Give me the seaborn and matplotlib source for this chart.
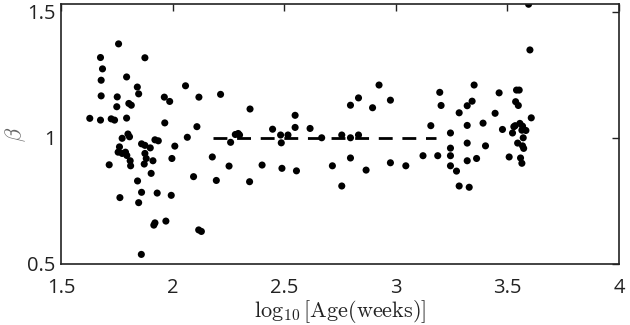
import matplotlib
matplotlib.use("Agg")
import matplotlib.pyplot as plt
import matplotlib.ticker as mticker
import seaborn as sns
import pandas as pd

# log10 age (weeks) and beta
age_log = [1.629, 1.677, 1.686, 1.680, 1.680, 1.677, 1.758, 1.725, 1.740, 1.752,
           1.750, 1.794, 1.876, 1.842, 1.848, 1.804, 1.815, 1.794, 1.963, 1.987,
           1.965, 2.058, 2.118, 2.109, 2.066, 1.800, 1.807, 1.774, 1.762, 1.756,
           1.774, 1.789, 1.795, 1.810, 1.812, 1.716, 1.861, 1.876, 1.900, 1.921,
           1.936, 1.876, 1.882, 1.912, 1.873, 2.010, 1.997, 1.904, 1.843, 1.861,
           1.848, 1.764, 1.931, 1.994, 1.921, 1.916, 1.970, 1.860, 2.094, 2.117,
           2.129,
           2.215, 2.178, 2.196, 2.253, 2.260, 2.281, 2.294, 2.300, 2.347, 2.345,
           2.401, 2.448, 2.484, 2.487, 2.517, 2.490, 2.549, 2.549, 2.616, 2.555,
           2.668, 2.716, 2.758, 2.797, 2.797, 2.758, 2.797, 2.833, 2.833, 2.896,
           2.867, 2.925,
           2.976, 2.976, 3.045, 3.122, 3.157, 3.188, 3.197, 3.203, 3.245, 3.245,
           3.245, 3.245, 3.272, 3.284, 3.329, 3.284, 3.320, 3.320, 3.320, 3.320,
           3.342, 3.351, 3.362, 3.391, 3.402, 3.445, 3.463, 3.478, 3.508, 3.523,
           3.529, 3.537, 3.549, 3.541, 3.553, 3.535, 3.556, 3.568, 3.583, 3.565,
           3.571, 3.546, 3.568, 3.573, 3.559, 3.565, 3.607, 3.601, 3.595]
beta = [1.077, 1.318, 1.273, 1.228, 1.166, 1.070, 1.372, 1.075, 1.070, 1.162,
        1.123, 1.241, 1.317, 1.201, 1.174, 1.136, 1.129, 1.078, 1.161, 1.144,
        1.059, 1.206, 1.161, 1.044, 1.002, 1.015, 1.004, 0.998, 0.964, 0.943,
        0.938, 0.943, 0.930, 0.909, 0.889, 0.893, 0.976, 0.970, 0.960, 0.992,
        0.988, 0.938, 0.918, 0.909, 0.896, 0.967, 0.918, 0.859, 0.829, 0.784,
        0.743, 0.763, 0.781, 0.772, 0.663, 0.654, 0.670, 0.538, 0.846, 0.635,
        0.629,
        1.172, 0.924, 0.831, 0.888, 0.982, 1.013, 1.017, 1.011, 1.114, 0.826,
        0.892, 1.034, 1.011, 0.980, 1.011, 0.879, 1.089, 1.041, 1.037, 0.869,
        1.000, 0.889, 1.011, 1.000, 0.920, 0.809, 1.129, 1.158, 1.011, 1.119,
        0.872, 1.209,
        1.149, 0.901, 0.889, 0.929, 1.048, 0.929, 1.180, 1.128, 1.019, 0.959,
        0.929, 0.889, 0.868, 0.809, 0.804, 1.099, 1.049, 0.979, 0.909, 1.127,
        1.145, 1.209, 0.918, 1.058, 0.968, 1.097, 1.178, 1.033, 0.924, 1.019,
        1.044, 1.143, 1.128, 1.189, 1.189, 1.048, 1.057, 1.046, 1.029, 1.030,
        1.000, 0.979, 0.968, 0.958, 0.920, 0.899, 1.079, 1.348, 1.529]

# dashed reference line at beta = 1
line_x = [2.18, 3.18]
line_y = [1.0, 1.0]

x_ticks = [1.5, 2, 2.5, 3, 3.5, 4]
y_ticks = [0.5, 1, 1.5]

df = pd.DataFrame({"age": age_log, "beta": beta})

sns.set_style("white")
plt.rcParams['font.family'] = ['Open Sans', 'DejaVu Sans']
plt.rcParams['mathtext.fontset'] = 'cm'

fig = plt.figure(figsize=(6.3, 3.25), dpi=100)
ax = fig.add_axes([0.0968, 0.1877, 0.8857, 0.80])

sns.scatterplot(data=df, x="age", y="beta", ax=ax, color="black", s=26,
                edgecolor="none", legend=False)
sns.lineplot(x=line_x, y=line_y, ax=ax, color="black", linewidth=2,
             dashes=False, linestyle=(0, (5, 3.5)))

ax.set_xlim(1.5, 4)
ax.set_ylim(0.5, 1.53)
ax.set_xticks(x_ticks)
ax.set_yticks(y_ticks)
fmt = mticker.FuncFormatter(lambda v, p: '%g' % v)
ax.xaxis.set_major_formatter(fmt)
ax.yaxis.set_major_formatter(fmt)
ax.tick_params(direction='in', top=True, right=True, length=5, width=1,
               labelsize=14.5, colors='#222222')
ax.tick_params(axis='x', pad=10)
ax.tick_params(axis='y', pad=4)
for s in ax.spines.values():
    s.set_linewidth(1.2)
    s.set_color('#222222')

ax.set_xlabel(r'$\log_{10}[\mathrm{Age(weeks)}]$', fontsize=16, labelpad=0,
              color='#222222')
ax.set_ylabel(r'$\beta$', fontsize=16, color='#666666')
ax.yaxis.set_label_coords(-0.06, 0.5)

fig.savefig("out.png", dpi=100)
